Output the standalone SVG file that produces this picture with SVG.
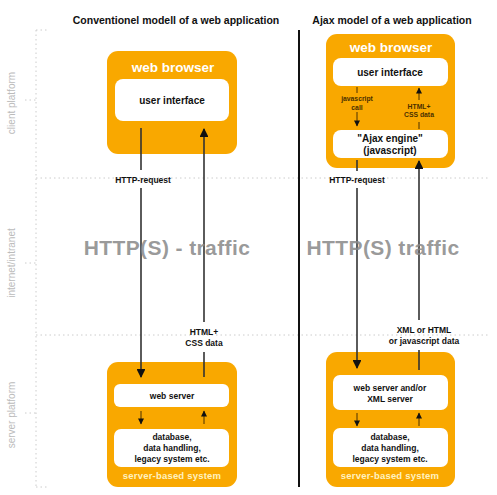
<svg xmlns="http://www.w3.org/2000/svg" width="497" height="495" viewBox="0 0 497 495">
<defs>
<style>
text{font-family:"Liberation Sans",Arial,sans-serif;text-anchor:middle}
.title{font-size:10.5px;font-weight:bold;fill:#111}
.box{fill:#f9a800}
.inner{fill:#fff}
.head{font-size:13.5px;font-weight:bold;fill:#fff}
.lbl{font-size:10px;font-weight:bold;fill:#111}
.sm{font-size:8.5px;font-weight:bold;fill:#111}
.tiny{font-size:6.8px;font-weight:bold;fill:#4a3000}
.sys{font-size:9.5px;font-weight:bold;fill:#fff2c0;letter-spacing:0.2px}
.big{font-size:21px;font-weight:bold;fill:#888;fill-opacity:0.85;letter-spacing:0.4px}
.side{font-size:10px;fill:#bbb}
.dot{stroke:#ccc;stroke-width:1;stroke-dasharray:1.5 3;fill:none}
.ln{stroke:#333;stroke-width:1.6;fill:none}
.sl{stroke:#4a3000;stroke-width:1;fill:none}
</style>
<marker id="ah" viewBox="0 0 10 10" refX="9" refY="5" markerWidth="6.5" markerHeight="5.5" orient="auto" markerUnits="strokeWidth"><path d="M0,0 L10,5 L0,10 z" fill="#111"/></marker>
<marker id="as" viewBox="0 0 10 10" refX="9" refY="5" markerWidth="7" markerHeight="6" orient="auto" markerUnits="strokeWidth"><path d="M0,0 L10,5 L0,10 z" fill="#111"/></marker>
</defs>
<rect width="497" height="495" fill="#fff"/>
<g id="grid">
<path class="dot" d="M36,30 V487 M36,30 H48 M36,487 H48 M36,178 H490 M36,335 H490 M25,100 H36 M25,263 H36 M25,413 H36"/>
<text class="side" transform="translate(15,103) rotate(-90)">client platform</text>
<text class="side" transform="translate(15,263) rotate(-90)">internet/intranet</text>
<text class="side" transform="translate(15,415) rotate(-90)">server platform</text>
<line x1="299" y1="30" x2="299" y2="487" stroke="#111" stroke-width="2"/>
</g>
<text class="title" x="176" y="24">Conventionel modell of a web application</text>
<text class="title" x="392" y="24">Ajax model of a web application</text>
<g id="left-browser">
<rect class="box" x="107" y="51" width="130" height="103" rx="11"/>
<text class="head" x="173" y="72">web browser</text>
<rect class="inner" x="115" y="79" width="114" height="42" rx="8"/>
<text class="lbl" x="172" y="104">user interface</text>
</g>
<g id="left-server">
<rect class="box" x="107" y="362" width="130" height="125" rx="11"/>
<rect class="inner" x="114" y="384" width="115" height="23" rx="6"/>
<text class="sm" x="172" y="399">web server</text>
<rect class="inner" x="114" y="429" width="115" height="38" rx="7"/>
<text class="sm" x="172" y="440">database,</text>
<text class="sm" x="172" y="451">data handling,</text>
<text class="sm" x="172" y="462">legacy system etc.</text>
<text class="sys" x="172" y="479">server-based system</text>
</g>
<g id="right-browser">
<rect class="box" x="326" y="34" width="129" height="134" rx="11"/>
<text class="head" x="391" y="52">web browser</text>
<rect class="inner" x="333" y="58" width="115" height="28" rx="8"/>
<text class="lbl" x="390" y="76">user interface</text>
<rect class="inner" x="333" y="130" width="115" height="28" rx="8"/>
<text class="lbl" x="390" y="142">"Ajax engine"</text>
<text class="lbl" x="390" y="154">(javascript)</text>
<text class="tiny" x="357" y="101">javascript</text>
<text class="tiny" x="357" y="110">call</text>
<text class="tiny" x="419" y="109">HTML+</text>
<text class="tiny" x="419" y="117">CSS data</text>
</g>
<g id="right-server">
<rect class="box" x="326" y="352" width="129" height="135" rx="11"/>
<rect class="inner" x="333" y="375" width="115" height="35" rx="7"/>
<text class="sm" x="390" y="391">web server and/or</text>
<text class="sm" x="390" y="402">XML server</text>
<rect class="inner" x="333" y="428" width="115" height="39" rx="7"/>
<text class="sm" x="390" y="440">database,</text>
<text class="sm" x="390" y="451">data handling,</text>
<text class="sm" x="390" y="462">legacy system etc.</text>
<text class="sys" x="390" y="479">server-based system</text>
</g>
<g id="connectors">
<path class="ln" d="M141,128 V170"/>
<path class="ln" d="M141,188 V377" marker-end="url(#ah)"/>
<path class="ln" d="M204,377 V352"/>
<path class="ln" d="M204,322 V129" marker-end="url(#ah)"/>
<path class="sl" d="M141,411 V424" marker-end="url(#as)"/>
<path class="sl" d="M204,424 V411" marker-end="url(#as)"/>
<path class="ln" d="M357,160 V171"/>
<path class="ln" d="M357,188 V368" marker-end="url(#ah)"/>
<path class="ln" d="M419,370 V350"/>
<path class="ln" d="M419,320 V161" marker-end="url(#ah)"/>
<path class="sl" d="M357,87 V93"/>
<path class="sl" d="M357,112 V126" marker-end="url(#as)"/>
<path class="sl" d="M419,100 V88" marker-end="url(#as)"/>
<path class="sl" d="M419,122 V129"/>
<path class="sl" d="M357,413 V426" marker-end="url(#as)"/>
<path class="sl" d="M419,426 V413" marker-end="url(#as)"/>
</g>
<g id="labels">
<text class="sm" x="143" y="183">HTTP-request</text>
<text class="sm" x="204" y="335">HTML+</text>
<text class="sm" x="204" y="346">CSS data</text>
<text class="sm" x="357" y="183">HTTP-request</text>
<text class="sm" x="424" y="333">XML or HTML</text>
<text class="sm" x="424" y="344">or javascript data</text>
<text class="big" x="167" y="255">HTTP(S) - traffic</text>
<text class="big" x="383" y="255">HTTP(S) traffic</text>
</g>
</svg>
